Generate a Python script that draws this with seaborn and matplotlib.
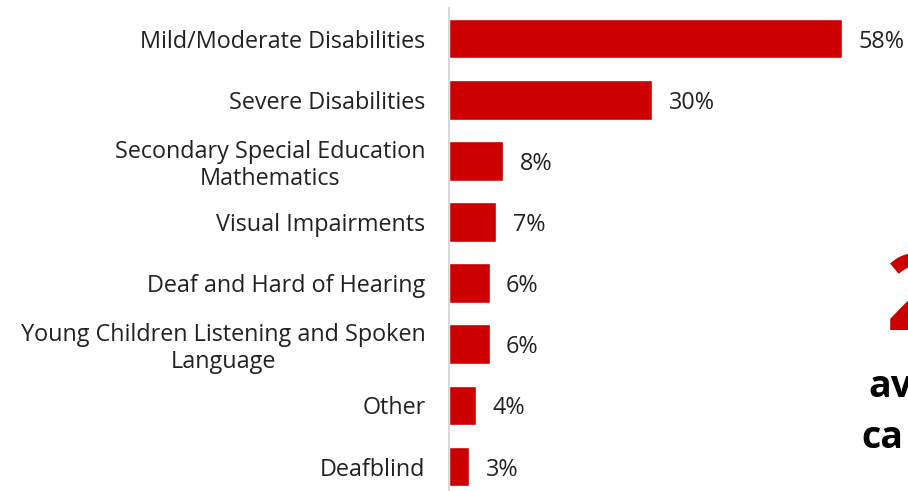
import matplotlib
matplotlib.use("Agg")
import matplotlib.pyplot as plt
import seaborn as sns
import pandas as pd

categories = [
    "Mild/Moderate Disabilities",
    "Severe Disabilities",
    "Secondary Special Education\nMathematics",
    "Visual Impairments",
    "Deaf and Hard of Hearing",
    "Young Children Listening and Spoken\nLanguage",
    "Other",
    "Deafblind",
]
values = [58, 30, 8, 7, 6, 6, 4, 3]
value_labels = ["58%", "30%", "8%", "7%", "6%", "6%", "4%", "3%"]

sns.set_theme(style="white")
plt.rcParams["font.family"] = ["Open Sans", "DejaVu Sans"]

df = pd.DataFrame({"category": categories, "value": values})

fig = plt.figure(figsize=(9.08, 4.91), dpi=100)
ax = fig.add_axes([449 / 908, 0.0, 1 - 449 / 908, 1 - 8 / 491])

sns.barplot(data=df, y="category", x="value", orient="h", color="#CC0000",
            saturation=1, width=0.65, ax=ax)

ax.set_xlim(0, (908 - 449) / 6.78)
ax.set_ylim(7.4, -0.5)
ax.set_xlabel("")
ax.set_ylabel("")
ax.set_xticks([])
for s in ["top", "right", "bottom"]:
    ax.spines[s].set_visible(False)
ax.spines["left"].set_color("#d9d9d9")
ax.spines["left"].set_linewidth(1.5)
ax.tick_params(axis="y", length=0, pad=17, labelsize=16.8, labelcolor="#222222")
for lab in ax.get_yticklabels():
    lab.set_multialignment("center")
    lab.set_linespacing(1.15)

for i, (v, t) in enumerate(zip(values, value_labels)):
    ax.text(v + 2.4, i + 0.05, t, va="center", ha="left", fontsize=16.8,
            color="#222222")

# partially visible elements at the right edge
fig.text(886 / 908, 1 - 302 / 491, "2", color="#CC0000", fontsize=76,
         fontweight="bold", va="center", ha="left")
fig.text(868 / 908, 1 - 387 / 491, "av", color="#000000", fontsize=27,
         fontweight="bold", va="center", ha="left")
fig.text(861 / 908, 1 - 438 / 491, "ca", color="#000000", fontsize=27,
         fontweight="bold", va="center", ha="left")

fig.savefig("out.png", dpi=100)
